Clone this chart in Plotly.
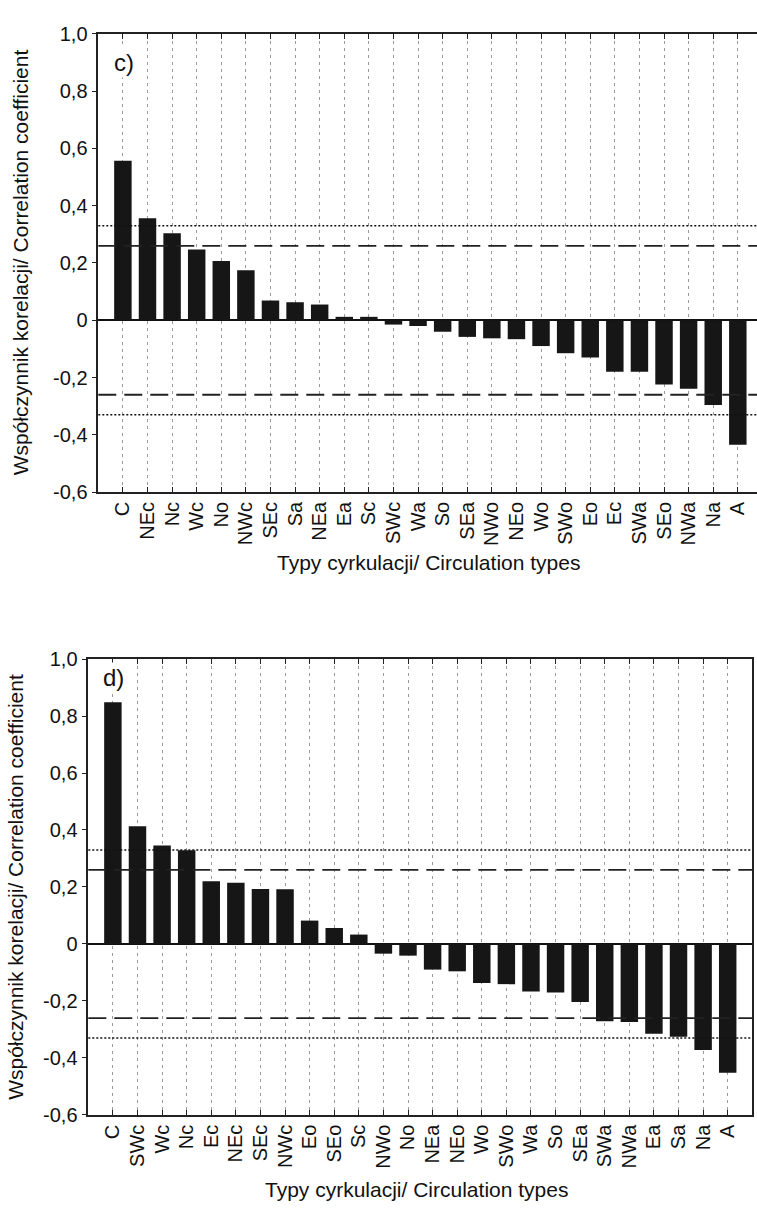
import plotly.graph_objects as go

# Panel c) - circulation types sorted by correlation coefficient
cats_c = ["C", "NEc", "Nc", "Wc", "No", "NWc", "SEc", "Sa", "NEa", "Ea", "Sc", "SWc", "Wa",
          "So", "SEa", "NWo", "NEo", "Wo", "SWo", "Eo", "Ec", "SWa", "SEo", "NWa", "Na", "A"]
vals_c = [0.557, 0.356, 0.304, 0.247, 0.207, 0.175, 0.069, 0.063, 0.055, 0.012, 0.012,
          -0.015, -0.020, -0.040, -0.058, -0.063, -0.066, -0.090, -0.115, -0.130, -0.180,
          -0.180, -0.224, -0.239, -0.296, -0.435]

# Panel d)
cats_d = ["C", "SWc", "Wc", "Nc", "Ec", "NEc", "SEc", "NWc", "Eo", "SEo", "Sc", "NWo", "No",
          "NEa", "NEo", "Wo", "SWo", "Wa", "So", "SEa", "SWa", "NWa", "Ea", "Sa", "Na", "A"]
vals_d = [0.848, 0.413, 0.346, 0.329, 0.220, 0.215, 0.193, 0.192, 0.082, 0.056, 0.033,
          -0.034, -0.041, -0.090, -0.096, -0.137, -0.141, -0.167, -0.170, -0.204, -0.271,
          -0.274, -0.315, -0.326, -0.372, -0.452]

# Significance thresholds (dashed and dotted reference lines)
sig_low = 0.26
sig_high = 0.33

y_ticks = [-0.6, -0.4, -0.2, 0, 0.2, 0.4, 0.6, 0.8, 1.0]
y_tick_text = ["-0,6", "-0,4", "-0,2", "0", "0,2", "0,4", "0,6", "0,8", "1,0"]

panel_labels = ["c)", "d)"]
x_title = "Typy cyrkulacji/ Circulation types"
y_title = "Współczynnik korelacji/ Correlation coefficient"

W, H = 757, 1214
BAR = "#161616"
NARROW = "Liberation Sans Narrow, Arial Narrow, Liberation Sans, Arial, sans-serif"
REG = "Liberation Sans, Arial, sans-serif"

fig = go.Figure()

fig.add_trace(go.Bar(x=cats_c, y=vals_c, marker=dict(color=BAR, line=dict(width=0)),
                     width=0.71, xaxis="x", yaxis="y", showlegend=False))
fig.add_trace(go.Bar(x=cats_d, y=vals_d, marker=dict(color=BAR, line=dict(width=0)),
                     width=0.71, xaxis="x2", yaxis="y2", showlegend=False))


def px_x(p):
    return p / W


def px_y(p):
    return 1 - p / H


xcommon = dict(
    type="category", showline=True, linecolor="#222", linewidth=1.5,
    ticks="inside", ticklen=5, tickcolor="#222", mirror="ticks",
    showgrid=True, gridcolor="#9a9a9a", gridwidth=1, griddash="3px,4px",
    tickangle=-90, tickfont=dict(family=REG, size=20, color="#111"),
    zeroline=False, fixedrange=True,
)
ycommon = dict(
    range=[-0.6, 1.0], tickvals=y_ticks, ticktext=y_tick_text,
    showline=True, linecolor="#222", linewidth=1.5,
    ticks="outside", ticklen=5, tickcolor="#222",
    showgrid=False, zeroline=True, zerolinecolor="#111", zerolinewidth=2,
    tickfont=dict(family=NARROW, size=20, color="#111"),
)

fig.update_layout(
    width=W, height=H,
    margin=dict(l=0, r=0, t=0, b=0),
    paper_bgcolor="white", plot_bgcolor="white",
    bargap=0.29,
    xaxis=dict(xcommon, domain=[px_x(98.3), 1.0], range=[-1, 25.78], anchor="y"),
    yaxis=dict(ycommon, domain=[px_y(490), px_y(23.3)], anchor="x", mirror=False),
    xaxis2=dict(xcommon, domain=[px_x(88.3), px_x(752.3)], range=[-1, 26], anchor="y2"),
    yaxis2=dict(ycommon, domain=[px_y(1124.3), px_y(660)], anchor="x2", mirror=True),
)

shapes = []
for xa, ya in (("x", "y"), ("x2", "y2")):
    for sgn in (1, -1):
        shapes.append(dict(type="line", xref=f"{xa} domain", yref=ya, x0=0, x1=1,
                           y0=sgn * sig_low, y1=sgn * sig_low, layer="above",
                           line=dict(color="#222", width=1.8, dash="18px,8px")))
        shapes.append(dict(type="line", xref=f"{xa} domain", yref=ya, x0=0, x1=1,
                           y0=sgn * sig_high, y1=sgn * sig_high, layer="above",
                           line=dict(color="#111", width=1.5, dash="2px,2px")))
fig.update_layout(shapes=shapes)

annotations = [
    # panel letters with white boxes
    dict(text=panel_labels[0], x=px_x(124), y=px_y(52), xref="paper", yref="paper",
         showarrow=False, font=dict(family=NARROW, size=24, color="#111"),
         bgcolor="white", xanchor="center", yanchor="middle"),
    dict(text=panel_labels[1], x=px_x(113), y=px_y(679), xref="paper", yref="paper",
         showarrow=False, font=dict(family=NARROW, size=24, color="#111"),
         bgcolor="white", xanchor="center", yanchor="middle"),
    # axis titles
    dict(text=x_title, x=px_x(429), y=px_y(562), xref="paper", yref="paper",
         showarrow=False, font=dict(family=NARROW, size=21, color="#111"),
         xanchor="center", yanchor="middle"),
    dict(text=x_title, x=px_x(416), y=px_y(1200), xref="paper", yref="paper",
         showarrow=False, font=dict(family=NARROW, size=21, color="#111"),
         xanchor="center", yanchor="middle"),
    dict(text=y_title, x=px_x(20), y=px_y(256), xref="paper", yref="paper",
         showarrow=False, textangle=-90, font=dict(family=REG, size=21, color="#111"),
         xanchor="center", yanchor="middle"),
    dict(text=y_title, x=px_x(16), y=px_y(892), xref="paper", yref="paper",
         showarrow=False, textangle=-90, font=dict(family=REG, size=21, color="#111"),
         xanchor="center", yanchor="middle"),
]
fig.update_layout(annotations=annotations)

fig.write_html("out.html", config={"displayModeBar": False})
